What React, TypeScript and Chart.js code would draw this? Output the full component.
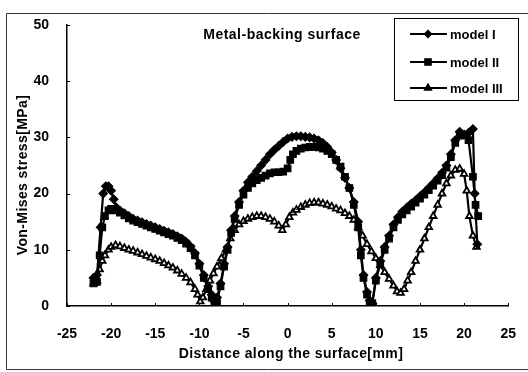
import React, { useEffect, useRef } from "react";
import { Chart, registerables } from "chart.js";
import { drawPoint } from "chart.js/helpers";

Chart.register(...registerables);

const CHART_TITLE = "Metal-backing surface";
const X_TITLE = "Distance along the surface[mm]";
const Y_TITLE = "Von-Mises stress[MPa]";
const SERIES_NAMES = ["model I", "model II", "model III"];
const X_MIN = -25;
const X_MAX = 25;
const X_STEP = 5;
const Y_MIN = 0;
const Y_MAX = 50;
const Y_STEP = 10;

// [distance (mm), stress (MPa)]
const modelI: [number, number][] = [
  [-22, 5], [-21.6, 5.5], [-21.2, 14], [-20.9, 20], [-20.6, 21.3], [-20.3, 21.3], [-20, 20.5], [-19.7, 19],
  [-19.4, 17.5], [-19, 17], [-18.5, 16.5], [-18, 16], [-17.5, 15.5], [-17, 15.2], [-16.5, 14.9], [-16, 14.6],
  [-15.5, 14.3], [-15, 14], [-14.5, 13.7], [-14, 13.4], [-13.5, 13.1], [-13, 12.8], [-12.5, 12.4], [-12, 12],
  [-11.5, 11.4], [-11, 10.6], [-10.5, 9.4], [-10, 7.5], [-9.5, 5.5], [-9, 3.5], [-8.6, 2], [-8.3, 0.8],
  [-8, 1.5], [-7.6, 4], [-7.2, 7.5], [-6.8, 10.5], [-6.4, 13.5], [-6, 16], [-5.5, 18.5], [-5, 20.5],
  [-4.5, 22], [-4, 23], [-3.5, 24], [-3, 25], [-2.5, 26], [-2, 27], [-1.5, 27.8], [-1, 28.5],
  [-0.5, 29.2], [0, 29.8], [0.5, 30.1], [1, 30.2], [1.5, 30.2], [2, 30.1], [2.5, 30], [3, 29.8],
  [3.5, 29.5], [4, 29], [4.5, 28.3], [5, 27.3], [5.5, 26], [6, 24.5], [6.5, 22.8], [7, 21],
  [7.5, 18.5], [8, 15], [8.3, 10], [8.6, 5.5], [9, 2.5], [9.3, 1], [9.6, 0.5], [10, 5],
  [10.5, 8], [11, 10.5], [11.5, 12.5], [12, 14.5], [12.5, 15.8], [13, 16.8], [13.5, 17.5], [14, 18.2],
  [14.5, 18.8], [15, 19.5], [15.5, 20.2], [16, 21], [16.5, 21.8], [17, 22.7], [17.5, 23.7], [18, 25],
  [18.5, 27], [19, 29.5], [19.5, 31], [20, 30.5], [20.5, 30.8], [21, 31.5], [21.2, 20], [21.5, 11],
];

const modelII: [number, number][] = [
  [-22, 4], [-21.6, 4.3], [-21.3, 9], [-21, 14], [-20.7, 16], [-20.3, 17], [-20, 17.3], [-19.5, 17],
  [-19, 16.6], [-18.5, 16.1], [-18, 15.6], [-17.5, 15.2], [-17, 14.9], [-16.5, 14.6], [-16, 14.3], [-15.5, 14],
  [-15, 13.7], [-14.5, 13.4], [-14, 13.1], [-13.5, 12.8], [-13, 12.5], [-12.5, 12.1], [-12, 11.7], [-11.5, 11.1],
  [-11, 10.3], [-10.5, 9], [-10, 7.2], [-9.5, 5], [-9, 3], [-8.6, 1.5], [-8.3, 0.5], [-8, 0.8],
  [-7.6, 3.5], [-7.2, 7], [-6.8, 10], [-6.4, 13], [-6, 15.5], [-5.5, 18], [-5, 19.8], [-4.5, 21],
  [-4, 21.8], [-3.5, 22.4], [-3, 22.8], [-2.5, 23.2], [-2, 23.6], [-1.5, 23.8], [-1, 23.8], [-0.5, 23.9],
  [0, 24.5], [0.3, 26], [0.6, 27], [1, 27.6], [1.5, 28], [2, 28.2], [2.5, 28.3], [3, 28.3],
  [3.5, 28.2], [4, 28], [4.5, 27.6], [5, 27], [5.5, 26], [6, 24.8], [6.5, 23], [7, 21],
  [7.5, 18], [8, 14], [8.3, 9], [8.6, 5], [9, 2], [9.3, 0.5], [9.6, 0.5], [10, 4.5],
  [10.5, 7.5], [11, 10], [11.5, 12], [12, 14], [12.5, 15.3], [13, 16.3], [13.5, 17], [14, 17.7],
  [14.5, 18.4], [15, 19.1], [15.5, 19.8], [16, 20.6], [16.5, 21.4], [17, 22.3], [17.5, 23.3], [18, 24.6],
  [18.5, 26.5], [19, 29], [19.5, 30.3], [20, 30.5], [20.5, 29.5], [21, 23], [21.3, 18], [21.6, 16],
];

const modelIII: [number, number][] = [
  [-22, 4], [-21.6, 4.5], [-21.3, 6.5], [-21, 8], [-20.7, 9], [-20.3, 10], [-20, 10.5], [-19.5, 10.8],
  [-19, 10.6], [-18.5, 10.3], [-18, 10], [-17.5, 9.8], [-17, 9.5], [-16.5, 9.2], [-16, 8.9], [-15.5, 8.6],
  [-15, 8.3], [-14.5, 8], [-14, 7.6], [-13.5, 7.2], [-13, 6.8], [-12.5, 6.3], [-12, 5.7], [-11.5, 5],
  [-11, 4.2], [-10.5, 3], [-10.2, 2], [-9.9, 0.8], [-9.6, 1.5], [-9.2, 3], [-8.8, 4.5], [-8.4, 5.8],
  [-8, 7], [-7.5, 8.5], [-7, 10], [-6.5, 12], [-6, 13.5], [-5.5, 14.5], [-5, 15.1], [-4.5, 15.5],
  [-4, 15.8], [-3.5, 16], [-3, 16], [-2.5, 15.8], [-2, 15.5], [-1.5, 15], [-1, 14.3], [-0.6, 13.5],
  [-0.2, 14.5], [0.2, 15.8], [0.6, 16.6], [1, 17.1], [1.5, 17.6], [2, 18], [2.5, 18.3], [3, 18.4],
  [3.5, 18.4], [4, 18.2], [4.5, 18], [5, 17.7], [5.5, 17.3], [6, 17], [6.5, 16.5], [7, 16],
  [7.5, 15.3], [8, 14], [8.5, 12.5], [9, 11], [9.5, 9.7], [10, 8.5], [10.5, 7.2], [11, 6],
  [11.5, 4.8], [12, 3.6], [12.4, 2.6], [12.8, 2.3], [13.2, 3], [13.6, 4.5], [14, 6], [14.5, 8],
  [15, 10], [15.5, 12], [16, 14], [16.5, 16], [17, 18], [17.5, 20], [18, 21.8], [18.5, 23.2],
  [19, 24.2], [19.5, 24.4], [20, 23.5], [20.3, 20.5], [20.6, 16], [21, 12.5], [21.4, 10.5],
];

const SERIES = [modelI, modelII, modelIII];
const STYLES = [
  { pointStyle: "rectRot", radius: 4.2, bg: "#000", bw: 1.2 },
  { pointStyle: "rect", radius: 4.6, bg: "#000", bw: 1.2 },
  { pointStyle: "triangle", radius: 3.8, bg: "#fff", bw: 1.8 },
];

const FONT = "Arial, 'Liberation Sans', Helvetica, sans-serif";

const decor = {
  id: "decor",
  afterDraw(chart: any) {
    const ctx = chart.ctx as CanvasRenderingContext2D;
    const xs = chart.scales.x;
    const ys = chart.scales.y;
    ctx.save();
    // outer frame
    ctx.strokeStyle = "#333";
    ctx.lineWidth = 1;
    ctx.beginPath();
    ctx.moveTo(528, 13.5);
    ctx.lineTo(6.5, 13.5);
    ctx.lineTo(6.5, 369.5);
    ctx.lineTo(528, 369.5);
    ctx.stroke();

    // inward tick marks
    ctx.strokeStyle = "#000";
    ctx.lineWidth = 1;
    ctx.beginPath();
    ys.ticks.forEach((t: any) => {
      const py = Math.round(ys.getPixelForValue(t.value)) + 0.5;
      ctx.moveTo(xs.left, py);
      ctx.lineTo(xs.left + 3, py);
    });
    xs.ticks.forEach((t: any) => {
      const px = Math.round(xs.getPixelForValue(t.value)) + 0.5;
      ctx.moveTo(px, ys.bottom);
      ctx.lineTo(px, ys.bottom - 3);
    });
    ctx.stroke();

    // chart title
    ctx.fillStyle = "#000";
    ctx.font = `bold 14px ${FONT}`;
    (ctx as any).letterSpacing = "0.5px";
    ctx.textAlign = "center";
    ctx.textBaseline = "middle";
    ctx.fillText(CHART_TITLE, 282, 35);

    // axis titles
    ctx.font = `bold 14px ${FONT}`;
    (ctx as any).letterSpacing = "0.4px";
    ctx.fillText(X_TITLE, 291, 354);
    ctx.save();
    ctx.translate(23, 175);
    ctx.rotate(-Math.PI / 2);
    ctx.fillText(Y_TITLE, 0, 0);
    ctx.restore();

    // legend
    (ctx as any).letterSpacing = "0px";
    ctx.strokeStyle = "#000";
    ctx.lineWidth = 1;
    ctx.strokeRect(394.5, 18.5, 124, 82);
    const rowsY = [34, 62, 88];
    ctx.font = `bold 13px ${FONT}`;
    ctx.textAlign = "left";
    SERIES_NAMES.forEach((name, i) => {
      const yy = rowsY[i];
      ctx.strokeStyle = "#000";
      ctx.lineWidth = 2;
      ctx.beginPath();
      ctx.moveTo(410, yy);
      ctx.lineTo(447, yy);
      ctx.stroke();
      const st = STYLES[i];
      ctx.fillStyle = i === 2 ? "#000" : st.bg;
      ctx.strokeStyle = "#000";
      ctx.lineWidth = st.bw;
      drawPoint(ctx, { pointStyle: st.pointStyle as any, radius: i === 1 ? 4.5 : 3.6, rotation: 0, borderWidth: st.bw }, 428, yy);
      ctx.fillStyle = "#000";
      ctx.fillText(name, 450, yy + 1);
    });
    ctx.restore();
  },
};

export default function App() {
  const ref = useRef<HTMLCanvasElement>(null);
  useEffect(() => {
    document.body.style.margin = "0";
    const canvas = ref.current!;
    const chart = new Chart(canvas, {
      type: "line",
      data: {
        datasets: SERIES.map((s, i) => ({
          label: SERIES_NAMES[i],
          data: s.map(([x, y]) => ({ x, y })),
          borderColor: "#000",
          borderWidth: 2.2,
          backgroundColor: STYLES[i].bg,
          pointBackgroundColor: STYLES[i].bg,
          pointBorderColor: "#000",
          pointBorderWidth: STYLES[i].bw,
          pointStyle: STYLES[i].pointStyle as any,
          pointRadius: STYLES[i].radius,
          tension: 0,
          fill: false,
        })),
      },
      options: {
        animation: false,
        responsive: false,
        devicePixelRatio: 1,
        layout: { padding: { left: 0, top: 25, right: 11, bottom: 0 } },
        plugins: {
          legend: { display: false },
          title: { display: false },
          tooltip: { enabled: false },
        },
        scales: {
          x: {
            type: "linear",
            min: X_MIN,
            max: X_MAX,
            grid: { display: false },
            border: { display: true, color: "#000", width: 1.5 },
            ticks: {
              stepSize: X_STEP,
              color: "#000",
              padding: 12,
              font: { family: FONT, size: 14, weight: "bold" },
            },
            afterFit: (s: any) => {
              s.height = 66;
            },
          },
          y: {
            type: "linear",
            min: Y_MIN,
            max: Y_MAX,
            grid: { display: false },
            border: { display: true, color: "#000", width: 1.5 },
            ticks: {
              stepSize: Y_STEP,
              color: "#000",
              padding: 10,
              font: { family: FONT, size: 14, weight: "bold" },
            },
            afterFit: (s: any) => {
              s.width = 67;
            },
          },
        },
      },
      plugins: [decor],
    });
    return () => chart.destroy();
  }, []);
  return (
    <div style={{ position: "absolute", left: 0, top: 0, width: 528, height: 372, background: "#fff" }}>
      <canvas ref={ref} width={528} height={372} style={{ display: "block" }} />
    </div>
  );
}
